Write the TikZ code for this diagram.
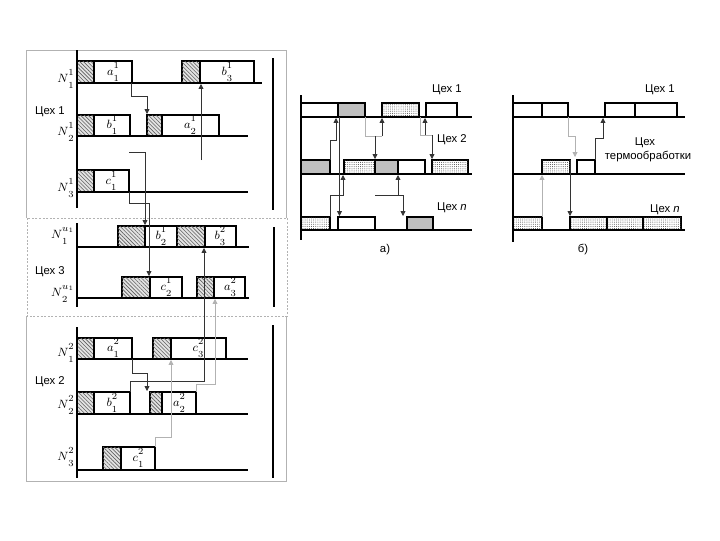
\documentclass[tikz,border=0pt]{standalone}
\usepackage{fontspec}
\setmainfont{Liberation Sans}
\usetikzlibrary{arrows.meta,patterns.meta}
\newcommand\SupSub[3]{$#1$\rlap{\raisebox{0.52em}{\fontsize{7}{7}\selectfont$#2$}}\raisebox{-0.5em}{\fontsize{7}{7}\selectfont$#3$}}
\newcommand\SupSubW[3]{$#1$\rlap{\raisebox{-0.5em}{\fontsize{7}{7}\selectfont$#3$}}\raisebox{0.52em}{\fontsize{7}{7}\selectfont$#2$}}
\begin{document}
\begin{tikzpicture}[x=0.75pt,y=-0.75pt,
  bx/.style={draw=black,line width=1.4pt},
  wbox/.style={bx,fill=white},
  hbx/.style={bx,fill=gray!22,postaction={pattern={Lines[angle=-45,distance=2pt,line width=0.45pt]},pattern color=gray!75!black}},
  gbx/.style={bx,fill=gray!50},
  dbx/.style={bx,fill=white,postaction={pattern={Dots[radius=0.35pt,distance=1.6pt]},pattern color=black!75}},
  base/.style={line width=1.6pt},
  axis/.style={line width=2.2pt},
  con/.style={line width=0.6pt,draw=black!80},
  gcon/.style={line width=0.6pt,draw=gray!60},
  arr/.style={-{Triangle[length=3.6pt,width=3.6pt]}},
  lab/.style={font=\fontsize{8.5}{10}\selectfont,inner sep=0pt},
  nl/.style={anchor=east,font=\fontsize{9.5}{10}\selectfont,inner sep=0pt},
  bl/.style={font=\fontsize{9.5}{10}\selectfont,inner sep=0pt},
  frame/.style={draw=gray!60,line width=0.5pt}
]
\useasboundingbox (0,0) rectangle (720,540);

% ---------- left panel frames ----------
\draw[frame] (26,218)--(26,50)--(286,50)--(286,218);
\draw[frame,dash pattern=on 1.5pt off 1.2pt] (27,218) rectangle (287,316);
\draw[frame] (26,316)--(26,481)--(286,481)--(286,316);

% ---------- Цех 1 ----------
\draw[hbx] (77,61) rectangle (94,83);
\draw[wbox] (94,61) rectangle (132,83);
\draw[hbx] (182,61) rectangle (200,83);
\draw[wbox] (200,61) rectangle (254,83);
\draw[base] (77,83)--(262,83);
\node[bl] (a11) at (113,72) {\SupSub{a}{1}{1}};
\node[bl] (b31) at (227,72) {\SupSub{b}{1}{3}};

\draw[hbx] (77,115) rectangle (94,136);
\draw[wbox] (94,115) rectangle (130,136);
\draw[hbx] (147,115) rectangle (162,136);
\draw[wbox] (162,115) rectangle (219,136);
\draw[base] (77,136)--(248,136);
\node[bl] (b11) at (112,125) {\SupSub{b}{1}{1}};
\node[bl] (a21) at (190,125) {\SupSub{a}{1}{2}};

\draw[hbx] (77,170) rectangle (94,192);
\draw[wbox] (94,170) rectangle (129,192);
\draw[base] (77,192)--(248,192);
\node[bl] (c11) at (111,181) {\SupSub{c}{1}{1}};

\node[nl] (n11) at (74,79) {\SupSub{N}{1}{1}};
\node[nl] (n12) at (74,132) {\SupSub{N}{1}{2}};
\node[nl] (n13) at (74,188) {\SupSub{N}{1}{3}};
\node[lab] (s1) at (50,112) {Цех 1};

% ---------- Цех 3 ----------
\draw[hbx] (118,226) rectangle (145,247);
\draw[wbox] (145,226) rectangle (177,247);
\draw[hbx] (177,226) rectangle (205,247);
\draw[wbox] (205,226) rectangle (236,247);
\draw[base] (77,247)--(249,247);
\node[bl] (b21) at (161,236) {\SupSub{b}{1}{2}};
\node[bl] (b32) at (220,236) {\SupSub{b}{2}{3}};

\draw[hbx] (122,277) rectangle (150,298);
\draw[wbox] (150,277) rectangle (182,298);
\draw[hbx] (197,277) rectangle (214,298);
\draw[wbox] (214,277) rectangle (245,298);
\draw[base] (77,298)--(249,298);
\node[bl] (c21) at (166,287) {\SupSub{c}{1}{2}};
\node[bl] (a32) at (230,287) {\SupSub{a}{2}{3}};

\node[nl] (nu1) at (74,236) {\SupSubW{N}{u_1}{1}};
\node[nl] (nu2) at (74,294) {\SupSubW{N}{u_1}{2}};
\node[lab] (s3) at (50,272) {Цех 3};

% ---------- Цех 2 ----------
\draw[hbx] (77,338) rectangle (94,359);
\draw[wbox] (94,338) rectangle (132,359);
\draw[hbx] (153,338) rectangle (171,359);
\draw[wbox] (171,338) rectangle (226,359);
\draw[base] (77,359)--(248,359);
\node[bl] (a12) at (113,348) {\SupSub{a}{2}{1}};
\node[bl] (c32) at (198,348) {\SupSub{c}{2}{3}};

\draw[hbx] (77,392) rectangle (94,414);
\draw[wbox] (94,392) rectangle (130,414);
\draw[hbx] (150,392) rectangle (162,414);
\draw[wbox] (162,392) rectangle (196,414);
\draw[base] (77,414)--(248,414);
\node[bl] (b12) at (112,403) {\SupSub{b}{2}{1}};
\node[bl] (a22) at (179,403) {\SupSub{a}{2}{2}};

\draw[hbx] (103,447) rectangle (121,470);
\draw[wbox] (121,447) rectangle (155,470);
\draw[base] (77,470)--(248,470);
\node[bl] (c12) at (138,458) {\SupSub{c}{2}{1}};

\node[nl] (n21) at (74,353) {\SupSub{N}{2}{1}};
\node[nl] (n22) at (74,405) {\SupSub{N}{2}{2}};
\node[nl] (n23) at (74,457) {\SupSub{N}{2}{3}};
\node[lab] (s2) at (50,382) {Цех 2};

% axes
\draw[axis] (77,50)--(77,208);
\draw[axis] (273,58)--(273,210);
\draw[axis] (77,223)--(77,307);
\draw[axis] (274,227)--(274,307);
\draw[axis] (77,327)--(77,478);
\draw[axis] (273,325)--(273,478);

% connectors left
\draw[con,arr] (131,83)--(131,96)--(147,96)--(147,114);
\draw[con,arr] (201,160)--(201,84);
\draw[con,arr] (129,152)--(145,152)--(145,225);
\draw[con,arr] (129,192)--(129,203)--(149,203)--(149,276);
\draw[con,arr] (132,359)--(132,373)--(147,373)--(147,391);
\draw[con,arr] (130,392)--(130,381)--(204,381)--(204,248);
\draw[gcon,arr] (196,392)--(196,384)--(215,384)--(215,299);
\draw[gcon,arr] (155,447)--(155,437)--(171,437)--(171,360);

% ---------- panel a) ----------
\draw[wbox] (301,103) rectangle (338,117);
\draw[gbx] (338,103) rectangle (365,117);
\draw[dbx] (382,103) rectangle (419,117);
\draw[wbox] (426,103) rectangle (457,117);
\draw[base] (301,117)--(472,117);

\draw[gbx] (301,160) rectangle (330,174);
\draw[dbx] (344,160) rectangle (375,174);
\draw[gbx] (375,160) rectangle (398,174);
\draw[wbox] (398,160) rectangle (425,174);
\draw[dbx] (432,160) rectangle (468,174);
\draw[base] (301,174)--(472,174);

\draw[dbx] (301,217) rectangle (330,230);
\draw[wbox] (338,217) rectangle (375,230);
\draw[gbx] (407,217) rectangle (433,230);
\draw[base] (301,230)--(472,230);

\draw[axis,line width=1.6pt] (301,95)--(301,240);
\node[lab] (ta1) at (447,90) {Цех 1};
\node[lab] (ta2) at (452,140) {Цех 2};
\node[lab] (tan) at (452,208) {Цех \textit{n}};
\node[lab] (capa) at (385,250) {а)};

\draw[con,arr] (330,160)--(330,140)--(336,140)--(336,118);
\draw[con,arr] (339.5,117)--(339.5,216);
\draw[con,arr] (330,217)--(330,195)--(343,195)--(343,175);
\draw[gcon] (365,117)--(365,136)--(382,136);
\draw[con,arr] (375,136)--(375,159);
\draw[con,arr] (382,136)--(382,118);
\draw[con] (375,195)--(403,195);
\draw[con,arr] (403,195)--(403,216);
\draw[con,arr] (398,195)--(398,175);
\draw[gcon] (420,117)--(420,135)--(432,135);
\draw[con,arr] (432,135)--(432,159);
\draw[con,arr] (425,135)--(425,118);

% ---------- panel б) ----------
\draw[wbox] (513,103) rectangle (542,117);
\draw[wbox] (542,103) rectangle (568,117);
\draw[wbox] (605,103) rectangle (635,117);
\draw[wbox] (635,103) rectangle (677,117);
\draw[base] (513,117)--(685,117);

\draw[dbx] (542,160) rectangle (570,174);
\draw[wbox] (577,160) rectangle (595,174);
\draw[base] (513,174)--(685,174);

\draw[dbx] (513,217) rectangle (542,230);
\draw[dbx] (570,217) rectangle (607,230);
\draw[dbx] (607,217) rectangle (643,230);
\draw[dbx] (643,217) rectangle (681,230);
\draw[base] (513,230)--(685,230);

\draw[axis,line width=1.6pt] (513,95)--(513,242);
\node[lab] (tb1) at (660,90) {Цех 1};
\node[lab] (tbt1) at (645,143) {Цех};
\node[lab] (tbt2) at (648,157) {термообработки};
\node[lab] (tbn) at (665,210) {Цех \textit{n}};
\node[lab] (capb) at (583,250) {б)};

\draw[gcon,arr] (568,117)--(568,136)--(575,136)--(575,157);
\draw[con,arr] (595,160)--(595,138)--(603,138)--(603,118);
\draw[gcon,arr] (542,217)--(542,175);
\draw[con,arr] (570,160)--(570,216);
\end{tikzpicture}
\end{document}
